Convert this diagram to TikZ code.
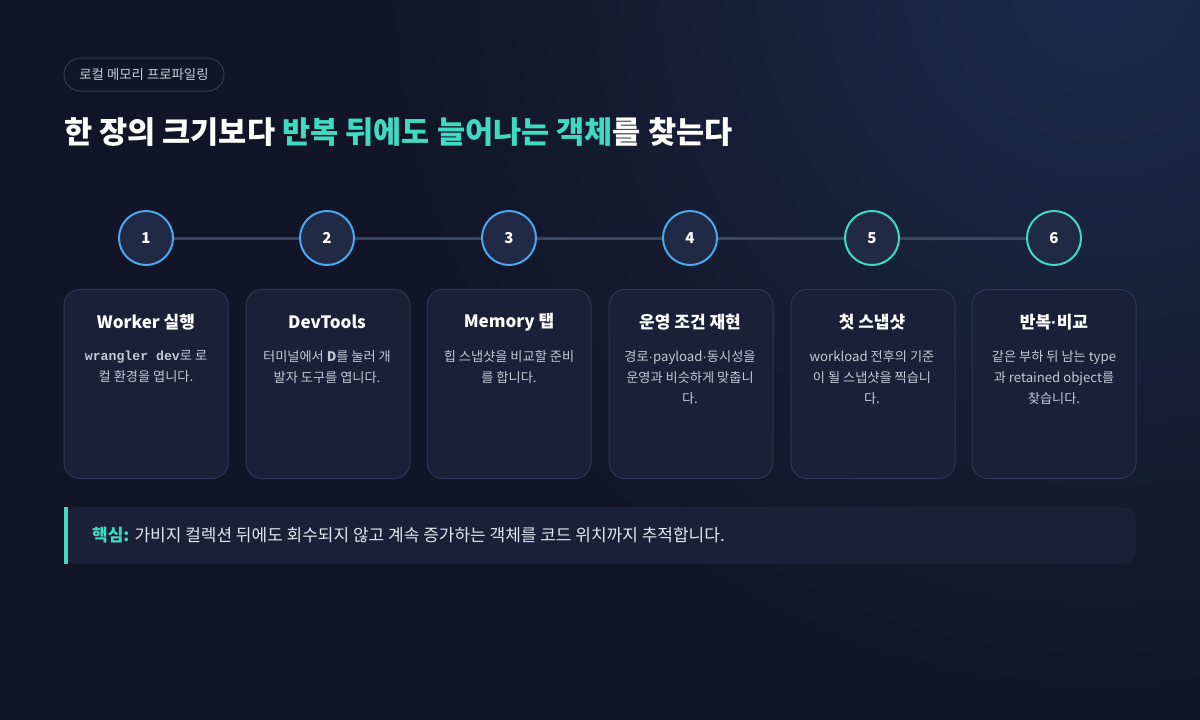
\documentclass[tikz,border=0pt]{standalone}
\usepackage{fontspec}
\setmainfont{Noto Sans CJK KR}
\newfontfamily\monofont{Liberation Mono}
\newfontfamily\latinfont{Liberation Sans}
\newcommand{\mdot}{{\latinfont ·}}
\definecolor{bg}{HTML}{111527}
\definecolor{glow}{HTML}{1C2B4A}
\definecolor{teal}{HTML}{40D9C2}
\definecolor{blue}{HTML}{4AA8F0}
\definecolor{circfill}{HTML}{212A45}
\definecolor{linec}{HTML}{3A4560}
\definecolor{cardfill}{HTML}{1B2039}
\definecolor{cardline}{HTML}{2E3755}
\definecolor{bodytext}{HTML}{C3C8D6}
\definecolor{pilltext}{HTML}{C8CDD8}
\definecolor{pillline}{HTML}{343B55}
\definecolor{calltext}{HTML}{E2E6EF}
\tikzset{
  stepcirc/.style={circle, minimum size=54pt, inner sep=0pt, fill=circfill, draw=#1, line width=2pt,
    text=white, font=\fontsize{15}{18}\selectfont\bfseries},
  card/.style={draw=cardline, fill=cardfill, line width=1pt, rounded corners=16pt},
  cardtitle/.style={text=white, font=\fontsize{17}{20}\selectfont\bfseries, anchor=center},
  cardbody/.style={text=bodytext, font=\fontsize{13.2}{21}\selectfont, align=center, anchor=north, inner sep=0pt},
}
\begin{document}
\begin{tikzpicture}[x=1pt,y=-1pt]
\useasboundingbox (0,0) rectangle (1200,720);
\fill[bg] (0,0) rectangle (1200,720);
\begin{scope}
\clip (0,0) rectangle (1200,720);
\shade[inner color=glow, outer color=bg] (1100,-20) circle[radius=720];
\end{scope}
% pill
\node[draw=pillline, line width=1pt, rounded corners=16.5pt, minimum height=33pt, minimum width=160pt, inner sep=0pt,
  text=pilltext, font=\fontsize{13.4}{15}\selectfont] (pill) at (144,74.5) {로컬 메모리 프로파일링};
% title
\node[anchor=base west, inner sep=0pt, text=white, font=\fontsize{30.6}{36}\selectfont\bfseries] (title) at (64,143)
  {한 장의 크기보다 \textcolor{teal}{반복 뒤에도 늘어나는 객체}를 찾는다};
% step circles
\foreach \i/\x/\c in {1/146/blue,2/327/blue,3/509/blue,4/690/blue,5/872/teal,6/1054/teal}{
  \node[stepcirc=\c] (s\i) at (\x,238) {\i};
}
\foreach \a/\b in {1/2,2/3,3/4,4/5,5/6}{
  \draw[linec, line width=3pt] (s\a.east) -- (s\b.west);
}
% cards
\foreach \i/\x in {1/64,2/246,3/427,4/609,5/791,6/972}{
  \draw[card] (\x,289.5) rectangle ++(164,189);
}
\node[cardtitle] (t1) at (146,322) {Worker 실행};
\node[cardtitle] (t2) at (327,322) {DevTools};
\node[cardtitle] (t3) at (509,322) {Memory 탭};
\node[cardtitle] (t4) at (690,322) {운영 조건 재현};
\node[cardtitle] (t5) at (872,322) {첫 스냅샷};
\node[cardtitle] (t6) at (1054,322) {반복\mdot 비교};
\node[cardbody] (b1) at (146,350.5) {{\monofont\bfseries wrangler dev}로 로\\컬 환경을 엽니다.};
\node[cardbody] (b2) at (327,350.5) {터미널에서 \textbf{D}를 눌러 개\\발자 도구를 엽니다.};
\node[cardbody] (b3) at (509,350.5) {힙 스냅샷을 비교할 준비\\를 합니다.};
\node[cardbody] (b4) at (690,350.5) {경로\mdot payload\mdot 동시성을\\운영과 비슷하게 맞춥니\\다.};
\node[cardbody] (b5) at (872,350.5) {workload 전후의 기준\\이 될 스냅샷을 찍습니\\다.};
\node[cardbody] (b6) at (1054,350.5) {같은 부하 뒤 남는 type\\과 retained object를\\찾습니다.};
% callout
\fill[cardfill, rounded corners=12pt] (64,507) rectangle (1136,564);
\fill[teal] (64,507) rectangle (68,564);
\node[anchor=west, inner sep=0pt, text=calltext, font=\fontsize{17}{20}\selectfont] (call) at (92,535.5)
  {\textcolor{teal}{\bfseries 핵심:} 가비지 컬렉션 뒤에도 회수되지 않고 계속 증가하는 객체를 코드 위치까지 추적합니다.};
\end{tikzpicture}
\end{document}
